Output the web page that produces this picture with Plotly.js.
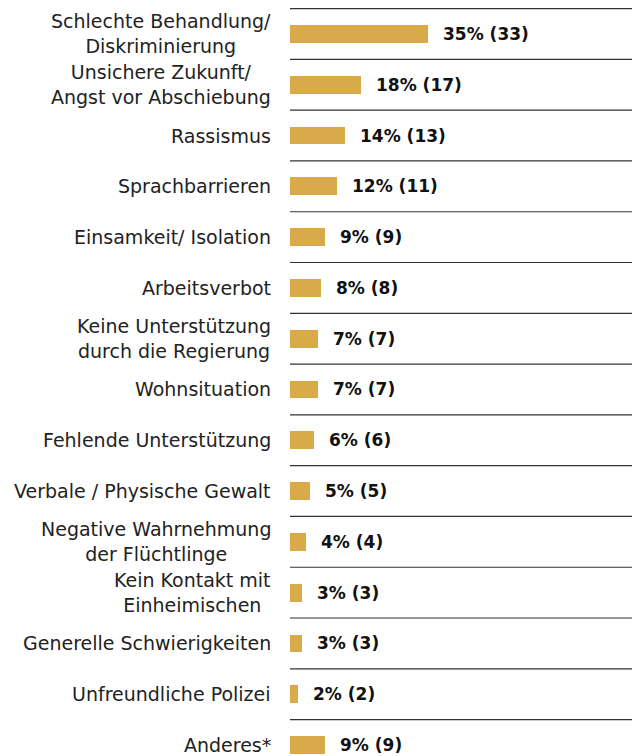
<!DOCTYPE html>
<html>
<head>
<meta charset="utf-8">
<script src="https://cdn.plot.ly/plotly-3.0.1.min.js"></script>
<style>html,body{margin:0;padding:0;background:#fff;}#chart{width:632px;height:756px;}</style>
</head>
<body>
<div id="chart"></div>
<script>
var categories = [
  "Schlechte Behandlung/<br>Diskriminierung",
  "Unsichere Zukunft/<br>Angst vor Abschiebung",
  "Rassismus",
  "Sprachbarrieren",
  "Einsamkeit/ Isolation",
  "Arbeitsverbot",
  "Keine Unterstützung<br>durch die Regierung",
  "Wohnsituation",
  "Fehlende Unterstützung",
  "Verbale / Physische Gewalt",
  "Negative Wahrnehmung<br>der Flüchtlinge",
  "Kein Kontakt mit<br>Einheimischen",
  "Generelle Schwierigkeiten",
  "Unfreundliche Polizei",
  "Anderes*"
];
var percents = [35, 18, 14, 12, 9, 8, 7, 7, 6, 5, 4, 3, 3, 2, 9];
var counts = [33, 17, 13, 11, 9, 8, 7, 7, 6, 5, 4, 3, 3, 2, 9];

var barColor = "#D8AA4A";
var fontFam = "'DejaVu Sans', sans-serif";

var trace = {
  type: "bar",
  orientation: "h",
  y: categories,
  x: percents,
  marker: {color: barColor},
  width: 0.35,
  hoverinfo: "none"
};

var annotations = [];
var shapes = [];
categories.forEach(function(c, i) {
  annotations.push({
    x: 0, xref: "paper", y: c, yref: "y",
    xanchor: "right", yanchor: "middle", xshift: -17,
    align: "center", showarrow: false,
    text: c,
    font: {family: fontFam, size: 19, color: "#222"}
  });
  annotations.push({
    x: percents[i], xref: "x", y: c, yref: "y",
    xanchor: "left", yanchor: "middle", xshift: 13,
    showarrow: false,
    text: "<b>" + percents[i] + "% (" + counts[i] + ")</b>",
    font: {family: fontFam, size: 17, color: "#111"}
  });
  shapes.push({
    type: "line", xref: "paper", x0: 0, x1: 1,
    yref: "y", y0: i - 0.5, y1: i - 0.5,
    line: {color: "#333", width: 1.2}
  });
});

var layout = {
  width: 632, height: 756,
  margin: {l: 290, r: 0, t: 0, b: 0},
  paper_bgcolor: "#fff", plot_bgcolor: "#fff",
  showlegend: false,
  bargap: 0,
  xaxis: {range: [0, 87], visible: false, fixedrange: true},
  yaxis: {
    type: "category",
    range: [14.217, -0.669],
    showticklabels: false, showgrid: false, zeroline: false, showline: false,
    ticks: ""
  },
  annotations: annotations,
  shapes: shapes
};

Plotly.newPlot("chart", [trace], layout, {staticPlot: true, displayModeBar: false});
</script>
</body>
</html>
